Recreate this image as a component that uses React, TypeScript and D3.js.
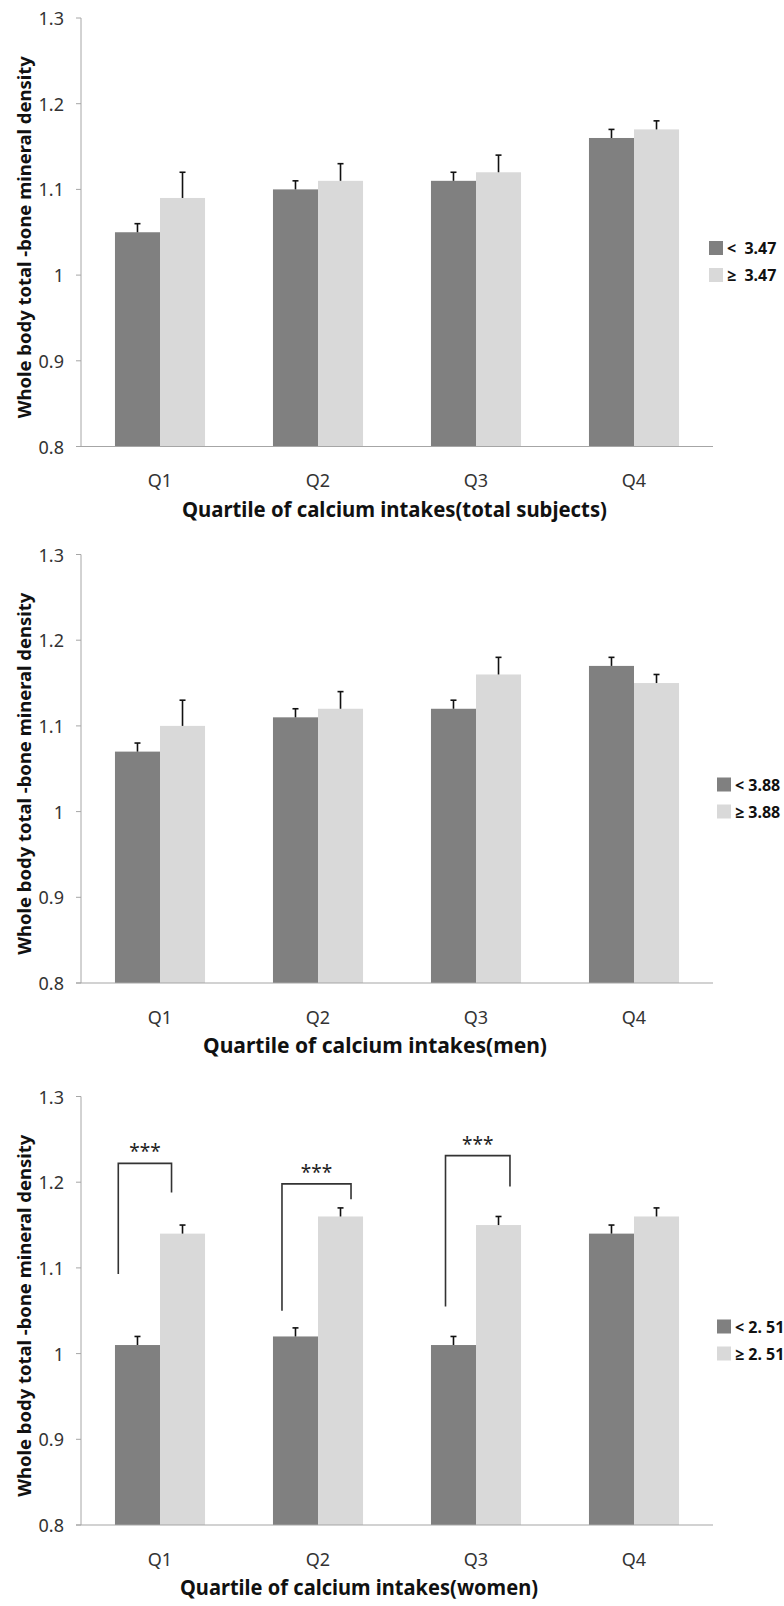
import React from 'react';
import * as d3 from 'd3';

const CATEGORIES = ['Q1', 'Q2', 'Q3', 'Q4'];
const Y_TICKS = [0.8, 0.9, 1.0, 1.1, 1.2, 1.3];

const TOTAL_LOW = [1.05, 1.10, 1.11, 1.16];
const TOTAL_LOW_ERR = [0.01, 0.01, 0.01, 0.01];
const TOTAL_HIGH = [1.09, 1.11, 1.12, 1.17];
const TOTAL_HIGH_ERR = [0.03, 0.02, 0.02, 0.01];

const MEN_LOW = [1.07, 1.11, 1.12, 1.17];
const MEN_LOW_ERR = [0.01, 0.01, 0.01, 0.01];
const MEN_HIGH = [1.10, 1.12, 1.16, 1.15];
const MEN_HIGH_ERR = [0.03, 0.02, 0.02, 0.01];

const WOMEN_LOW = [1.01, 1.02, 1.01, 1.14];
const WOMEN_LOW_ERR = [0.01, 0.01, 0.01, 0.01];
const WOMEN_HIGH = [1.14, 1.16, 1.15, 1.16];
const WOMEN_HIGH_ERR = [0.01, 0.01, 0.01, 0.01];

const TOTAL_LEGEND = ['<  3.47', '\u2265  3.47'];
const MEN_LEGEND = ['< 3.88', '\u2265 3.88'];
const WOMEN_LEGEND = ['< 2. 51', '\u2265 2. 51'];

const Y_TITLE = 'Whole body total -bone mineral density';
const X_TITLES = [
  'Quartile of calcium intakes(total subjects)',
  'Quartile of calcium intakes(men)',
  'Quartile of calcium intakes(women)',
];

// significance brackets (women panel), in data coordinates (x in category units)
const SIG_LEFT_X = [0.236, 1.272, 2.307];
const SIG_RIGHT_X = [0.573, 1.709, 2.715];
const SIG_TOP = [1.222, 1.198, 1.231];
const SIG_LEFT_BOTTOM = [1.093, 1.05, 1.055];
const SIG_RIGHT_BOTTOM = [1.188, 1.18, 1.195];
const SIG_LABEL = ['***', '***', '***'];

const W = 784;
const H = 1606;
const X0 = 81;
const X1 = 713;
const PLOT_H = 428.5;
const DARK = '#808080';
const LIGHT = '#d9d9d9';
const AXIS = '#a6a6a6';
const FONT = '"Noto Sans", "Open Sans", sans-serif';

type PanelProps = {
  top: number;
  low: number[];
  lowErr: number[];
  high: number[];
  highErr: number[];
  legend: string[];
  xTitle: string;
  xTitleCenter: number;
  xTitleLen: number;
  legendX: number;
  sig?: boolean;
};

function Panel(p: PanelProps) {
  const y = d3.scaleLinear().domain([0.8, 1.3]).range([p.top + PLOT_H, p.top]);
  const x = d3.scaleBand<string>().domain(CATEGORIES).range([X0, X1]).paddingInner(0.43).paddingOuter(0.215);
  const inner = d3.scaleBand<string>().domain(['low', 'high']).range([0, x.bandwidth()]);
  const xc = d3.scaleLinear().domain([0, 4]).range([X0, X1]);
  const fmt = (d: number) => String(+d.toFixed(1));
  const base = y(0.8);
  const series = [
    { key: 'low', vals: p.low, errs: p.lowErr, color: DARK },
    { key: 'high', vals: p.high, errs: p.highErr, color: LIGHT },
  ];
  const legTop = p.top + 223;
  return (
    <g>
      {/* y axis */}
      <line x1={X0} x2={X0} y1={y(1.3)} y2={base} stroke={AXIS} strokeWidth={1} />
      {Y_TICKS.map((t) => (
        <g key={t}>
          <line x1={X0 - 5} x2={X0} y1={y(t)} y2={y(t)} stroke={AXIS} strokeWidth={1} />
          <text x={64} y={y(t)} textAnchor="end" dominantBaseline="central" fontFamily={FONT} fontSize={18} fill="#333">
            {fmt(t)}
          </text>
        </g>
      ))}
      {/* bars */}
      {series.map((s) =>
        CATEGORIES.map((c, i) => {
          const bx = (x(c) as number) + (inner(s.key) as number);
          const bw = inner.bandwidth();
          const cx = bx + bw / 2;
          const yv = y(s.vals[i]);
          const ye = y(s.vals[i] + s.errs[i]);
          return (
            <g key={s.key + c}>
              <rect x={bx} y={yv} width={bw} height={base - yv} fill={s.color} />
              <line x1={cx} x2={cx} y1={yv} y2={ye} stroke="#111" strokeWidth={1.6} />
              <line x1={cx - 3} x2={cx + 3} y1={ye} y2={ye} stroke="#111" strokeWidth={1.6} />
            </g>
          );
        })
      )}
      {/* x axis */}
      <line x1={X0 - 5} x2={X1} y1={base} y2={base} stroke={AXIS} strokeWidth={1.2} />
      {CATEGORIES.map((c) => (
        <text key={c} x={(x(c) as number) + x.bandwidth() / 2} y={base + 33.5} textAnchor="middle" dominantBaseline="central" fontFamily={FONT} fontSize={18} fill="#333">
          {c}
        </text>
      ))}
      <text x={p.xTitleCenter} y={base + 62} textAnchor="middle" dominantBaseline="central" fontFamily={FONT} fontWeight="bold" fontSize={21} fill="#111" textLength={p.xTitleLen} lengthAdjust="spacingAndGlyphs">
        {p.xTitle}
      </text>
      {/* y title */}
      <text transform={`translate(24,${(p.top + base) / 2 + 5}) rotate(-90)`} textAnchor="middle" dominantBaseline="central" fontFamily={FONT} fontWeight="bold" fontSize={18} fill="#111" textLength={362} lengthAdjust="spacingAndGlyphs">
        {Y_TITLE}
      </text>
      {/* legend */}
      {p.legend.map((l, i) => (
        <g key={l}>
          <rect x={p.legendX} y={legTop + i * 27} width={14} height={14} fill={i === 0 ? DARK : LIGHT} />
          <text x={p.legendX + 18} y={legTop + i * 27 + 7} dominantBaseline="central" fontFamily={FONT} fontWeight="bold" fontSize={16} fill="#111" style={{ whiteSpace: 'pre' }}>
            {l}
          </text>
        </g>
      ))}
      {/* significance brackets */}
      {p.sig &&
        SIG_LABEL.map((lab, i) => {
          const lx = xc(SIG_LEFT_X[i]);
          const rx = xc(SIG_RIGHT_X[i]);
          const ty = y(SIG_TOP[i]);
          return (
            <g key={i}>
              <path
                d={`M${lx},${y(SIG_LEFT_BOTTOM[i])}V${ty}H${rx}V${y(SIG_RIGHT_BOTTOM[i])}`}
                fill="none"
                stroke="#333"
                strokeWidth={1.6}
              />
              <text x={(lx + rx) / 2} y={ty - 5} textAnchor="middle" fontFamily={FONT} fontSize={19} fill="#222">
                {lab}
              </text>
            </g>
          );
        })}
    </g>
  );
}

export default function App() {
  return (
    <svg width={W} height={H} style={{ position: 'absolute', left: 0, top: 0, background: '#fff' }}>
      <rect x={0} y={0} width={W} height={H} fill="#fff" />
      <Panel top={18} low={TOTAL_LOW} lowErr={TOTAL_LOW_ERR} high={TOTAL_HIGH} highErr={TOTAL_HIGH_ERR} legend={TOTAL_LEGEND} xTitle={X_TITLES[0]} xTitleCenter={394.5} xTitleLen={425} legendX={709} />
      <Panel top={554.5} low={MEN_LOW} lowErr={MEN_LOW_ERR} high={MEN_HIGH} highErr={MEN_HIGH_ERR} legend={MEN_LEGEND} xTitle={X_TITLES[1]} xTitleCenter={375} xTitleLen={344} legendX={717} />
      <Panel top={1096.5} low={WOMEN_LOW} lowErr={WOMEN_LOW_ERR} high={WOMEN_HIGH} highErr={WOMEN_HIGH_ERR} legend={WOMEN_LEGEND} xTitle={X_TITLES[2]} xTitleCenter={359} xTitleLen={358} legendX={717} sig />
    </svg>
  );
}
